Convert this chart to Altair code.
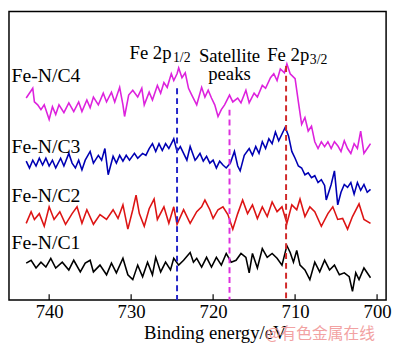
import altair as alt
import pandas as pd

# ---------------- data ----------------
sample_names = ["Fe-N/C4", "Fe-N/C3", "Fe-N/C2", "Fe-N/C1"]
sample_colors = ["#DD22DD", "#0000B4", "#DD1414", "#000000"]

c4_energy = [742.8, 742.0, 741.8, 741.4, 741.0, 740.6, 740.0, 739.6, 739.2, 738.8,
             738.2, 737.6, 737.0, 736.4, 736.0, 735.4, 735.0, 734.6, 734.0, 733.4,
             733.0, 732.4, 732.0, 731.4, 731.0, 730.8, 730.3, 729.8, 729.2, 728.7,
             728.4, 727.8, 727.4, 726.8, 726.4, 726.0, 725.6, 725.1, 724.8, 724.4,
             724.2, 723.8, 723.4, 723.0, 722.6, 722.0, 721.4, 721.0, 720.6, 720.2,
             719.8, 719.4, 719.0, 718.6, 718.0, 717.6, 717.0, 716.6, 716.0, 715.6,
             715.0, 714.6, 714.0, 713.6, 713.0, 712.6, 712.2, 711.8, 711.3, 711.0,
             710.6, 710.0, 709.6, 709.2, 708.8, 708.4, 708.0, 707.6, 707.2, 706.8,
             706.4, 706.0, 705.6, 705.2, 704.8, 704.4, 704.0, 703.6, 703.2, 702.8,
             702.4, 702.0, 701.6, 701.2, 700.8]
c4_intensity = [208, 218, 204, 201, 196, 201, 186, 199, 191, 201,
                193, 203, 194, 204, 194, 206, 198, 209, 201, 213,
                204, 214, 204, 219, 201, 189, 211, 216, 209, 218,
                201, 214, 206, 221, 213, 224, 219, 233, 226, 233,
                239, 229, 234, 218, 211, 201, 219, 209, 216, 208,
                201, 189, 196, 201, 211, 204, 208, 203, 216, 203,
                213, 209, 221, 218, 229, 233, 226, 238, 234, 243,
                233, 228, 204, 181, 188, 174, 179, 163, 156, 163,
                158, 163, 156, 163, 159, 153, 164, 156, 151, 161,
                156, 174, 151, 156, 161]

c3_energy = [742.8, 742.4, 742.0, 741.6, 741.2, 740.8, 740.4, 740.0, 739.6, 739.2,
             738.6, 738.2, 737.6, 737.2, 736.8, 736.4, 736.0, 735.6, 735.0, 734.6,
             734.0, 733.6, 733.2, 732.8, 732.2, 731.8, 731.4, 731.0, 730.6, 730.2,
             729.6, 729.2, 728.6, 728.2, 727.8, 727.4, 727.0, 726.6, 726.2, 725.8,
             725.4, 724.8, 724.4, 724.0, 723.6, 723.2, 722.8, 722.2, 722.0, 721.6,
             721.2, 720.8, 720.4, 720.0, 719.6, 719.2, 718.8, 718.4, 717.9, 717.4,
             717.0, 716.7, 716.2, 715.6, 715.2, 714.8, 714.4, 714.0, 713.6, 713.2,
             712.8, 712.4, 712.0, 711.2, 710.8, 710.4, 710.0, 709.6, 709.2, 708.8,
             708.4, 708.0, 707.6, 707.2, 706.8, 706.4, 706.2, 705.6, 705.2, 704.8,
             704.4, 704.0, 703.6, 703.2, 702.8, 702.4, 702.0, 701.6, 701.2, 700.8]
c3_intensity = [143, 136, 144, 138, 146, 139, 146, 138, 144, 136,
                146, 138, 151, 141, 136, 144, 134, 144, 153, 141,
                149, 144, 156, 129, 148, 141, 149, 143, 149, 144,
                151, 146, 151, 149, 156, 161, 153, 161, 154, 161,
                156, 166, 153, 158, 151, 144, 158, 144, 146, 151,
                143, 148, 141, 144, 136, 143, 139, 136, 141, 153,
                138, 133, 149, 156, 149, 158, 151, 163, 156, 166,
                161, 173, 164, 178, 169, 153, 146, 138, 136, 129,
                131, 126, 128, 121, 124, 118, 103, 119, 133, 98,
                111, 119, 116, 121, 109, 121, 113, 119, 111, 114]

c2_energy = [742.8, 742.2, 741.8, 741.2, 740.6, 740.0, 739.4, 738.7, 738.0, 737.2,
             736.6, 736.0, 735.4, 734.6, 733.8, 733.0, 732.2, 731.6, 731.0, 730.4,
             729.8, 729.4, 729.0, 728.4, 727.8, 727.2, 726.8, 726.0, 725.4, 724.8,
             724.4, 723.6, 722.8, 722.0, 721.4, 721.0, 720.4, 720.0, 719.4, 718.8,
             718.2, 717.6, 717.0, 716.4, 715.8, 715.2, 714.6, 714.0, 713.4, 712.8,
             712.2, 711.6, 711.0, 710.4, 709.8, 709.4, 708.8, 708.2, 707.6, 706.8,
             706.0, 705.4, 704.8, 704.2, 703.6, 703.0, 702.2, 701.6, 700.8]
c2_intensity = [79, 91, 83, 89, 76, 96, 83, 91, 78, 89,
                96, 79, 93, 78, 88, 83, 93, 84, 98, 73,
                93, 108, 89, 76, 94, 104, 83, 96, 79, 96,
                78, 93, 79, 91, 96, 103, 93, 84, 93, 96,
                88, 73, 89, 103, 89, 98, 84, 96, 86, 101,
                91, 96, 79, 98, 93, 104, 86, 96, 91, 76,
                89, 96, 83, 84, 73, 86, 99, 83, 79]

c1_energy = [742.8, 742.2, 741.6, 741.0, 740.4, 739.8, 739.2, 738.4, 737.6, 737.0,
             736.2, 735.6, 735.0, 734.6, 733.8, 733.0, 732.4, 731.8, 731.0, 730.4,
             729.8, 729.2, 728.6, 728.0, 727.4, 727.0, 726.4, 725.8, 725.2, 724.8,
             724.2, 723.6, 722.8, 722.4, 722.0, 721.4, 720.8, 720.2, 719.6, 719.0,
             718.4, 717.8, 717.2, 716.6, 716.0, 715.6, 715.2, 714.6, 714.0, 713.4,
             712.8, 712.2, 711.6, 711.0, 710.6, 710.2, 709.8, 709.4, 708.8, 708.2,
             707.6, 707.0, 706.4, 705.8, 705.2, 704.6, 704.0, 703.4, 703.0, 702.6,
             702.2, 701.6, 700.8]
c1_intensity = [38, 41, 33, 39, 34, 43, 33, 39, 31, 41,
                29, 38, 41, 29, 36, 26, 38, 28, 43, 26,
                21, 36, 24, 39, 26, 44, 29, 39, 31, 43,
                36, 41, 49, 39, 43, 34, 44, 34, 44, 36,
                48, 39, 41, 48, 44, 28, 48, 33, 53, 44,
                48, 43, 36, 56, 49, 39, 51, 36, 31, 21,
                39, 29, 41, 31, 36, 26, 28, 24, 9, 28,
                21, 33, 23]

tick_values = [740, 730, 720, 710, 700]

peak_energy = [724.4, 718.0, 711.1]
peak_top = [218, 196, 241]
peak_colors = ["#2424C8", "#DD30DD", "#D02828"]

# labels: text, energy (left edge), intensity (baseline), size
left_text = ["Fe-N/C4", "Fe-N/C3", "Fe-N/C2", "Fe-N/C1", "Fe 2p", "1/2", "Fe 2p", "3/2"]
left_energy = [744.6, 744.6, 744.6, 744.6, 730.2, 724.9, 713.4, 708.2]
left_inten = [225, 151, 101, 53, 248, 245, 246, 243]
left_size = [20, 20, 20, 20, 19, 14, 19, 14]

center_text = ["Satellite", "peaks"]
center_energy = [718.0, 718.0]
center_inten = [245, 227]

watermark_text = ["@有色金属在线"]
watermark_energy = [713.6]
watermark_inten = [-40]

# ---------------- build tables ----------------
rows = []
for name, ev, iv in zip(sample_names,
                        [c4_energy, c3_energy, c2_energy, c1_energy],
                        [c4_intensity, c3_intensity, c2_intensity, c1_intensity]):
    for e, v in zip(ev, iv):
        rows.append({"energy": e, "intensity": v, "sample": name})
spectra = pd.DataFrame(rows)

peaks = pd.DataFrame({"energy": peak_energy, "top": peak_top,
                      "bottom": [0] * len(peak_energy), "color": peak_colors})
ticks = pd.DataFrame({"energy": tick_values, "y0": [0] * 5, "y1": [6] * 5})
left_labels = pd.DataFrame({"text": left_text, "energy": left_energy,
                            "intensity": left_inten, "size": left_size})
center_labels = pd.DataFrame({"text": center_text, "energy": center_energy,
                              "intensity": center_inten})
wm = pd.DataFrame({"text": watermark_text, "energy": watermark_energy,
                   "intensity": watermark_inten})

xscale = alt.Scale(domain=[744.9, 698.9], nice=False, zero=False)
yscale = alt.Scale(domain=[0, 297], nice=False, zero=False)
SERIF = "Liberation Serif"

x_axis = alt.Axis(values=tick_values, title="Binding energy/eV", grid=False,
                  ticks=False, tickSize=0, domain=False, labelFont=SERIF,
                  labelFontSize=19, labelColor="black", labelPadding=3,
                  labelFlush=False, titleFont=SERIF, titleFontSize=19,
                  titleFontWeight="normal", titleColor="black", titlePadding=2,
                  titleX=209, titleAlign="center")

lines = alt.Chart(spectra).mark_line(strokeWidth=1.6).encode(
    x=alt.X("energy:Q", scale=xscale, axis=x_axis),
    y=alt.Y("intensity:Q", scale=yscale, axis=None),
    color=alt.Color("sample:N", scale=alt.Scale(domain=sample_names, range=sample_colors),
                    legend=None),
)

dashes = alt.Chart(peaks).mark_rule(strokeDash=[6, 4], strokeWidth=2).encode(
    x=alt.X("energy:Q", scale=xscale),
    y=alt.Y("top:Q", scale=yscale),
    y2="bottom:Q",
    color=alt.Color("color:N", scale=None),
)

tick_marks = alt.Chart(ticks).mark_rule(color="black", strokeWidth=1.2).encode(
    x=alt.X("energy:Q", scale=xscale),
    y=alt.Y("y0:Q", scale=yscale),
    y2="y1:Q",
)

left_txt = alt.Chart(left_labels).mark_text(
    font=SERIF, align="left", baseline="alphabetic", color="black").encode(
    x=alt.X("energy:Q", scale=xscale),
    y=alt.Y("intensity:Q", scale=yscale),
    text="text:N",
    size=alt.Size("size:Q", scale=None),
)

center_txt = alt.Chart(center_labels).mark_text(
    font=SERIF, fontSize=19, align="center", baseline="alphabetic", color="black").encode(
    x=alt.X("energy:Q", scale=xscale),
    y=alt.Y("intensity:Q", scale=yscale),
    text="text:N",
)

wm_txt = alt.Chart(wm).mark_text(
    font="Noto Sans CJK SC", fontSize=16, align="left", baseline="alphabetic",
    color="#F2A2A2").encode(
    x=alt.X("energy:Q", scale=xscale),
    y=alt.Y("intensity:Q", scale=yscale),
    text="text:N",
)

chart = alt.layer(lines, dashes, tick_marks, left_txt, center_txt, wm_txt).properties(
    width=383, height=293,
    padding={"left": 1, "top": 1, "right": 0, "bottom": 0},
    background="white",
).configure_view(stroke="black", strokeWidth=1.5)

chart.save("out.html", embed_options={"renderer": "svg", "actions": False})
